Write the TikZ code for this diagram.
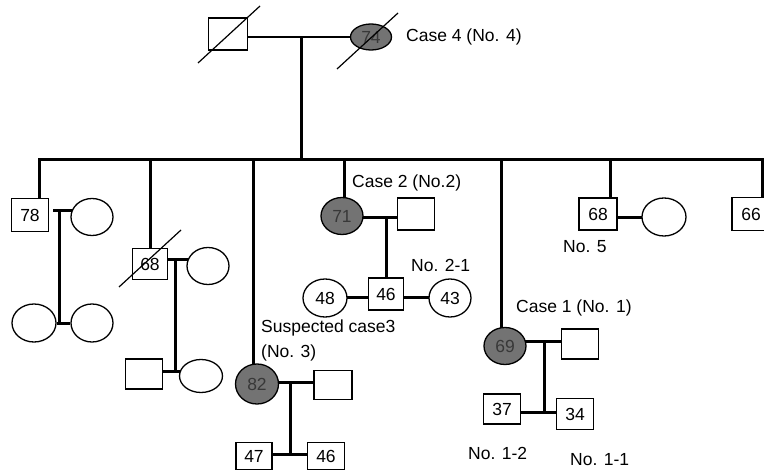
\documentclass[tikz,border=0pt]{standalone}
\usepackage{fontspec}
\setmainfont{Liberation Sans}
\usetikzlibrary{shapes.geometric,backgrounds}
\begin{document}
\begin{tikzpicture}[x=1pt,y=-1pt,
  base/.style={draw, line width=1.3pt, inner sep=0pt, fill=white, font=\fontsize{17.5}{20}\selectfont},
  male/.style={base, rectangle, minimum width=37pt, minimum height=32pt},
  female/.style={base, ellipse, minimum width=42pt, minimum height=37pt},
  aff/.style={fill=black!55, text=black!78},
  lbl/.style={anchor=west, inner sep=0pt, font=\fontsize{17.5}{20}\selectfont},
  thickln/.style={line width=3pt},
  slash/.style={line width=1.2pt}
]
\useasboundingbox (0,0) rectangle (764,476);
\clip (0,0) rectangle (764,476);

% generation I
\node[male, minimum width=39pt] (gf) at (228,34) {};
\node[female, aff, minimum width=41pt, minimum height=26pt] (gm) at (371,37) {74};
\node[lbl] (l4) at (406,37) {Case 4 (No. 4)};
\coordinate (top) at (301,37);
\coordinate (s0) at (39,160);
\coordinate (s7) at (762,160);

% generation II
\node[male, minimum height=33pt] (c1) at (30,215) {78};
\node[female] (c1w) at (92,217) {};
\coordinate (j1) at (59,211);
\node[female, minimum width=44pt, minimum height=38pt] (g1) at (34,323) {};
\node[female, minimum height=38pt] (g2) at (92,323) {};

\coordinate (s2) at (150,160);
\node[male, minimum width=35pt, minimum height=31pt] (c2) at (150,264) {68};
\node[female] (c2w) at (208,266) {};
\coordinate (j2) at (175,260);
\node[male, minimum height=30pt] (d1) at (144,374) {};
\node[female, minimum width=43pt, minimum height=33pt] (d2) at (201,376) {};
\coordinate (k2) at (175,371);

\coordinate (s3) at (253,160);
\node[female, aff, minimum width=43pt, minimum height=40pt] (c3) at (257,384) {82};
\node[male, minimum width=38pt, minimum height=29pt] (c3h) at (333,385) {};
\coordinate (j3) at (290,382);
\node[male, minimum width=36pt, minimum height=27pt] (e1) at (254,456) {47};
\node[male, minimum height=27pt] (e2) at (326,456) {46};
\coordinate (k3) at (290,454);
\node[lbl] (l3a) at (261,328) {Suspected case3};
\node[lbl] (l3b) at (261,353) {(No. 3)};

\coordinate (s4) at (344,160);
\node[female, aff] (c4) at (342,216) {71};
\node[male] (c4h) at (416,214) {};
\coordinate (j4) at (386,218);
\node[female, minimum width=44pt, minimum height=38pt] (f1) at (325,298) {48};
\node[male, minimum width=35pt] (f2) at (386,294) {46};
\node[female, minimum height=38pt] (f3) at (450,298) {43};
\coordinate (k4) at (386,297);
\node[lbl] (l2) at (352,183) {Case 2 (No.2)};
\node[lbl] (l21) at (411,265) {No. 2-1};

\coordinate (s5) at (501,160);
\node[female, aff] (c5) at (505,346) {69};
\node[male, minimum height=30pt] (c5h) at (580,344) {};
\coordinate (j5) at (544,341);
\node[male, minimum height=30pt] (h1) at (502,409) {37};
\node[male, minimum height=31pt] (h2) at (575,414) {34};
\coordinate (k5) at (544,412);
\node[lbl] (l1) at (516,308) {Case 1 (No. 1)};
\node[lbl] (l12) at (468,453) {No. 1-2};
\node[lbl] (l11) at (570,460) {No. 1-1};

\coordinate (s6) at (610,160);
\node[male, minimum width=38pt] (c6) at (598,214) {68};
\node[female, minimum width=44pt, minimum height=38pt] (c6w) at (664,217) {};
\coordinate (j6) at (630,218);
\node[lbl] (l5) at (563,247) {No. 5};

\node[male, minimum width=38pt, minimum height=33pt] (c7) at (751,214) {66};

% deceased slashes
\draw[slash] (198,63) -- (260,6);
\draw[slash] (337,69) -- (398,13);
\draw[slash] (119,287) -- (181,230);

\begin{scope}[on background layer]
  \draw[line width=2pt] (top -| gf.center) -- (top -| gm.center);
  \draw[thickln] (top) -- (top |- s0);
  \draw[thickln] (s0 |- c1.center) -- (s0) -- (s7) -- (s7 |- c7.center);
  \draw[thickln] (s2) -- (c2.center);
  \draw[thickln] (s3) -- (s3 |- c3.center);
  \draw[thickln] (s4) -- (s4 |- c4.center);
  \draw[thickln] (s5) -- (s5 |- c5.center);
  \draw[thickln] (s6) -- (s6 |- c6.center);
  % family of 78
  \draw[thickln] ([xshift=-6pt]j1) -- (j1 -| c1w.center);
  \draw[thickln] (j1) -- (j1 |- g1.center);
  \draw[thickln] (g1) -- (g2);
  % family of 68
  \draw[thickln] (j2 -| c2.center) -- (j2 -| c2w.center);
  \draw[thickln] (j2) -- (k2);
  \draw[thickln] (k2 -| d1.center) -- (k2 -| d2.center);
  % family of 82
  \draw[thickln] (j3 -| c3.center) -- (j3 -| c3h.center);
  \draw[thickln] (j3) -- (k3);
  \draw[thickln] (k3 -| e1.center) -- (k3 -| e2.center);
  % family of 71
  \draw[thickln] (j4 -| c4.center) -- (j4 -| c4h.center);
  \draw[thickln] (j4) -- (f2.center);
  \draw[thickln] (k4 -| f1.center) -- (k4 -| f3.center);
  % family of 69
  \draw[thickln] (j5 -| c5.center) -- (j5 -| c5h.center);
  \draw[thickln] (j5) -- (k5);
  \draw[thickln] (k5 -| h1.center) -- (k5 -| h2.center);
  % 68 No. 5
  \draw[thickln] (j6 -| c6.center) -- (j6 -| c6w.center);
\end{scope}
\end{tikzpicture}
\end{document}
